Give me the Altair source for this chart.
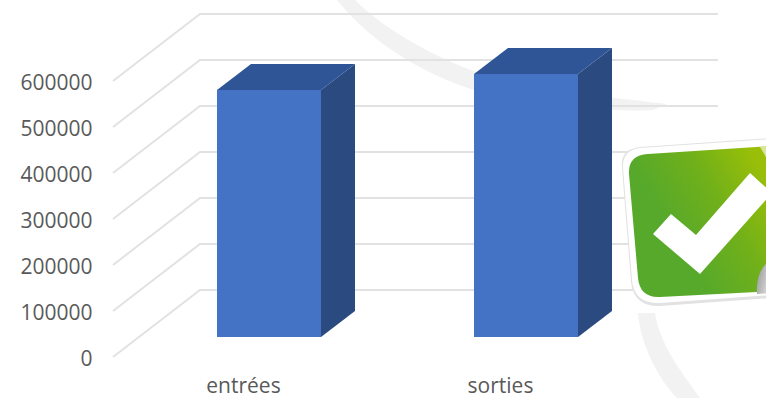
import altair as alt
import pandas as pd

# Chart values
categories = ["entrées", "sorties"]
values = [537000, 572000]
y_ticks = [0, 100000, 200000, 300000, 400000, 500000, 600000]

# Pixel geometry of the pseudo-3D box
PAD_L, PAD_B = 113, 28
PLOT_W, PLOT_H = 653, 370
PX_PER_VALUE = 46 / 100000
ZERO_Y = 357
CAT_X0, CAT_STEP = 243, 257


def ux(px):
    return (px - CAT_X0) / CAT_STEP


def dv(px):
    return px / PX_PER_VALUE


x_scale = alt.Scale(domain=[ux(PAD_L), ux(PAD_L + PLOT_W)], nice=False, zero=False)
y_scale = alt.Scale(domain=[dv(ZERO_Y - PLOT_H), dv(ZERO_Y)], nice=False, zero=False)

# Gridlines run from the front edge along the side wall, then across the back wall
WALL_DX, WALL_DY = 87, 67
grid_rows = []
for t in y_ticks:
    grid_rows += [
        {"tick": t, "x": ux(PAD_L), "y": t},
        {"tick": t, "x": ux(PAD_L + WALL_DX), "y": t + dv(WALL_DY)},
        {"tick": t, "x": ux(718), "y": t + dv(WALL_DY)},
    ]

# Bar faces: the front sits slightly inside the floor, the depth goes up and to the right
BAR_HALF = 52 / CAT_STEP
BAR_SHIFT = 26 / CAT_STEP
DEPTH_X = 34 / CAT_STEP
DEPTH_Y = dv(26)
BASE = dv(20)

front_rows, top_rows, side_rows = [], [], []
for i, (c, v) in enumerate(zip(categories, values)):
    x0 = i + BAR_SHIFT - BAR_HALF
    x1 = i + BAR_SHIFT + BAR_HALF
    top = BASE + v
    front_rows.append({"cat": c, "x": x0, "x2": x1, "y": BASE, "y2": top})
    top_rows += [
        {"cat": c, "x": x0, "y": top, "y2": top},
        {"cat": c, "x": x0 + DEPTH_X, "y": top + DEPTH_Y, "y2": top},
        {"cat": c, "x": x1, "y": top + DEPTH_Y, "y2": top},
        {"cat": c, "x": x1 + DEPTH_X, "y": top + DEPTH_Y, "y2": top + DEPTH_Y},
    ]
    side_rows += [
        {"cat": c, "x": x1, "y": top, "y2": BASE},
        {"cat": c, "x": x1 + DEPTH_X, "y": top + DEPTH_Y, "y2": BASE + DEPTH_Y},
    ]

# Both scales and axes are shared by every data layer
x_axis = alt.Axis(
    values=[0, 1],
    labelExpr=f"datum.value == 0 ? '{categories[0]}' : '{categories[1]}'",
    grid=False,
    domain=False,
    ticks=False,
    labelFont="Open Sans",
    labelFontSize=21,
    labelColor="#595959",
    labelBaseline="middle",
    labelPadding=16,
)
y_axis = alt.Axis(
    values=y_ticks,
    format="d",
    grid=False,
    domain=False,
    ticks=False,
    labelFont="Open Sans",
    labelFontSize=21,
    labelColor="#595959",
    labelPadding=21,
    labelOffset=2,
    labelOverlap=False,
)
x_q = alt.X("x:Q", scale=x_scale, axis=x_axis, title=None)
y_q = alt.Y("y:Q", scale=y_scale, axis=y_axis, title=None)


def decoration(path, **style):
    # Page-anchored vector shape; size 4 keeps path units equal to pixels
    return (
        alt.Chart(pd.DataFrame({"k": [0]}))
        .mark_point(shape=path, size=4, filled=True, opacity=1, strokeWidth=0, **style)
        .encode(x=alt.value(-PAD_L), y=alt.value(0))
    )


SWOOSH = "#f2f2f2"
swoosh_upper = decoration(
    "M337 0 C375 48 440 85 505 98 C560 108 625 112 653 110 L667 104 "
    "C620 98 550 93 500 80 C440 62 385 30 355 0 Z",
    fill=SWOOSH,
)
swoosh_lower = decoration(
    "M638 313 C640 340 655 375 677 398 L700 398 C680 370 660 345 655 313 Z",
    fill=SWOOSH,
)

grid = (
    alt.Chart(pd.DataFrame(grid_rows))
    .mark_line(color="#e2e2e2", strokeWidth=2)
    .encode(x=x_q, y=y_q, detail="tick:Q", order=alt.Order("x:Q"))
)

top_face = (
    alt.Chart(pd.DataFrame(top_rows))
    .mark_area(color="#2f5597", orient="vertical")
    .encode(x=x_q, y=y_q, y2="y2:Q", detail="cat:N")
)
side_face = (
    alt.Chart(pd.DataFrame(side_rows))
    .mark_area(color="#2a4a80", orient="vertical")
    .encode(x=x_q, y=y_q, y2="y2:Q", detail="cat:N")
)
front_face = (
    alt.Chart(pd.DataFrame(front_rows))
    .mark_rect(color="#4472c4")
    .encode(x=x_q, x2="x2:Q", y=y_q, y2="y2:Q")
)

# Tilted green "validated" sticker
sticker_shadow = decoration(
    "M640 147 L772 138 L772 298 L660 306 Q634 307 631 282 L622 168 Q620 149 640 147 Z",
    fill="#e2e2e2",
)
sticker_border = decoration(
    "M640 148 L772 139 L772 295 L660 303 Q634 304 632 280 L623 168 Q622 150 640 148 Z",
    fill="#ffffff",
)
sticker_body = decoration(
    "M648 154 L772 146 L772 262 L757 292 L660 297 Q640 298 638 278 L629 174 Q628 155 648 154 Z",
    fill=alt.Gradient(
        gradient="linear",
        x1=0.35,
        y1=0.65,
        x2=1,
        y2=0.25,
        stops=[
            alt.GradientStop(color="#57a92b", offset=0),
            alt.GradientStop(color="#70b01a", offset=0.5),
            alt.GradientStop(color="#9abf08", offset=1),
        ],
    ),
)
sticker_check = decoration(
    "M653 234 L671 214 L696 235 L750 173 L772 193 L700 274 Z",
    fill="#ffffff",
)
sticker_glint = decoration(
    "M760 147 L770 146 L770 165 Q765 155 760 147 Z",
    fill="#d9e59a",
)
sticker_curl = decoration(
    "M772 259 C760 266 756 280 757 294 L772 293 Z",
    fill=alt.Gradient(
        gradient="linear",
        x1=0,
        y1=0.3,
        x2=1,
        y2=0.8,
        stops=[
            alt.GradientStop(color="#9a9a9a", offset=0),
            alt.GradientStop(color="#e6e6e6", offset=1),
        ],
    ),
)

chart = (
    alt.layer(
        swoosh_upper,
        swoosh_lower,
        grid,
        side_face,
        top_face,
        front_face,
        sticker_shadow,
        sticker_border,
        sticker_body,
        sticker_check,
        sticker_glint,
        sticker_curl,
    )
    .properties(
        width=PLOT_W,
        height=PLOT_H,
        padding={"left": PAD_L, "top": 0, "right": 0, "bottom": PAD_B},
        autosize=alt.AutoSizeParams(type="none"),
        background="#ffffff",
    )
    .configure_view(stroke=None)
)

chart.save("out.html", embed_options={"renderer": "svg", "actions": False})
